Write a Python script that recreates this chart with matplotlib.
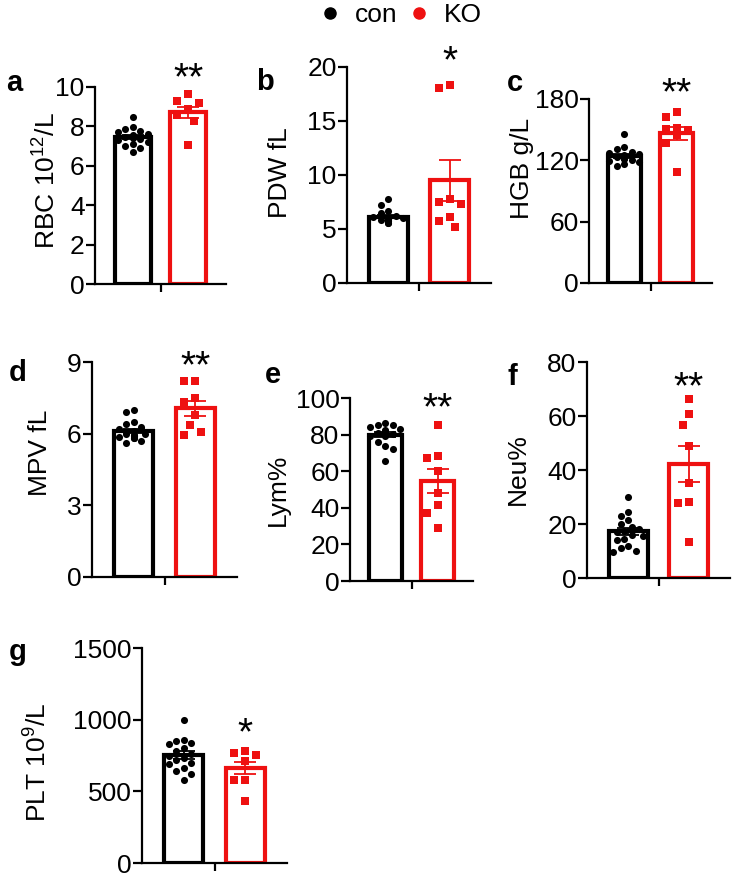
import numpy as np
import matplotlib
matplotlib.use("Agg")
import matplotlib.pyplot as plt
from matplotlib.lines import Line2D

plt.rcParams['font.family'] = ['Liberation Sans', 'DejaVu Sans']
plt.rcParams['mathtext.fontset'] = 'custom'
plt.rcParams['mathtext.rm'] = 'Liberation Sans'
plt.rcParams['mathtext.it'] = 'Liberation Sans'

groups = ["con", "KO"]
RED = "#EE1111"

# ---- data ----
rbc_con = [8.48, 7.95, 7.85, 7.75, 7.7, 7.6, 7.55, 7.5, 7.45, 7.4, 7.35, 7.3, 7.2, 7.1, 7.0, 6.9, 6.7]
rbc_ko = [9.66, 9.27, 9.19, 8.90, 8.82, 8.56, 8.28, 7.04]

pdw_con = [7.8, 7.2, 6.7, 6.5, 6.2, 6.1, 6.0, 6.0, 5.9, 5.9, 5.8, 5.8, 5.7, 5.7, 5.6, 5.6]
pdw_ko = [18.3, 18.1, 7.5, 7.3, 7.75, 6.1, 5.7, 5.2]

hgb_con = [146, 133, 131, 128, 127, 126, 125, 124, 123, 122, 122, 121, 120, 119, 118, 116, 114]
hgb_ko = [167, 162, 152, 151, 150, 145, 137, 109]

mpv_con = [7.0, 6.9, 6.5, 6.4, 6.3, 6.2, 6.1, 6.0, 6.0, 5.95, 5.9, 5.9, 5.85, 5.8, 5.8, 5.7, 5.6]
mpv_ko = [8.22, 8.22, 7.49, 7.31, 6.8, 6.38, 6.06, 5.96]

lym_con = [86.5, 85.5, 85, 84, 83, 82.5, 82, 81.5, 81, 80.5, 80, 79.5, 79, 76, 74, 72, 65.7]
lym_ko = [85.4, 68.4, 67.2, 59.9, 48.0, 41.6, 37.0, 28.8]

neu_con = [30, 24.5, 23, 21.5, 20, 19, 18, 17.5, 17, 16, 15.5, 14.5, 14, 12, 11, 10, 9.5]
neu_ko = [66.3, 60.7, 56.7, 48.9, 35.3, 28.1, 27.6, 13.4]

plt_con = [1000, 860, 850, 840, 830, 800, 780, 760, 750, 730, 720, 700, 690, 660, 640, 620, 580]
plt_ko = [784, 751, 767, 709, 709, 581, 577, 430]

ylabels = ["RBC 10$^{12}$/L", "PDW fL", "HGB g/L", "MPV fL", "Lym%", "Neu%", "PLT 10$^{9}$/L"]
letters = ["a", "b", "c", "d", "e", "f", "g"]
yticks = [[0, 2, 4, 6, 8, 10], [0, 5, 10, 15, 20], [0, 60, 120, 180], [0, 3, 6, 9],
          [0, 20, 40, 60, 80, 100], [0, 20, 40, 60, 80], [0, 500, 1000, 1500]]
stars = ["**", "*", "**", "**", "**", "**", "*"]
datasets = [(rbc_con, rbc_ko), (pdw_con, pdw_ko), (hgb_con, hgb_ko), (mpv_con, mpv_ko),
            (lym_con, lym_ko), (neu_con, neu_ko), (plt_con, plt_ko)]

# ---- layout (pixels) ----
W, H = 736, 880
boxes = [(95, 226, 87, 284), (347, 491, 67, 283), (589, 712, 99, 283),
         (92, 237, 362, 577), (350, 473, 398, 581), (587, 730, 362, 578),
         (142, 287, 648, 863)]
ylab_pos = [(47, 181), (280, 173), (522, 168), (40, 453), (278, 490), (518, 469), (38, 762)]
letter_pos = [(14, 83), (265, 82), (515, 83), (18, 373), (273, 375), (512, 377), (18, 652)]
star_y = [73, 56, 88, 361, 403, 382, 728]

fig = plt.figure(figsize=(W / 100, H / 100), dpi=100)


def swarm(ax, x0, vals, dpx, maxhalf):
    pts = ax.transData.transform([(x0, v) for v in vals])
    ux = ax.transData.transform((1, 0))[0] - ax.transData.transform((0, 0))[0]
    order = np.argsort(vals)[::-1]
    placed = []
    offs = np.zeros(len(vals))
    for i in order:
        y = pts[i, 1]
        best = None
        for k in range(0, 40):
            for s in ([0] if k == 0 else [-1, 1]):
                cx = s * k * dpx * 0.5
                if abs(cx) > maxhalf:
                    continue
                ok = all((cx - px) ** 2 + (y - py) ** 2 >= dpx ** 2 for px, py in placed)
                if ok:
                    best = cx
                    break
            if best is not None:
                break
        if best is None:
            best = 0.0
        placed.append((best, y))
        offs[i] = best / ux
    return x0 + offs


for i in range(7):
    l, r, t, b = boxes[i]
    ax = fig.add_axes([l / W, 1 - b / H, (r - l) / W, (b - t) / H])
    con, ko = datasets[i]
    ax.set_xlim(-0.68, 1.68)
    ax.set_ylim(0, yticks[i][-1])
    for j, (vals, col) in enumerate([(con, "black"), (ko, RED)]):
        v = np.array(vals, dtype=float)
        m = v.mean()
        ax.bar(j, m, width=0.64, facecolor="white", edgecolor=col, linewidth=3.0, zorder=2)
    fig.canvas.draw()
    for j, (vals, col, mk, sz, dp) in enumerate([(con, "black", "o", 26, 7.5),
                                                  (ko, RED, "s", 30, 11)]):
        v = np.array(vals, dtype=float)
        xs = swarm(ax, j, v, dp, 18)
        ax.scatter(xs, v, marker=mk, s=sz, color=col, linewidths=0, zorder=3, clip_on=False)
    for j, (vals, col) in enumerate([(con, "black"), (ko, RED)]):
        v = np.array(vals, dtype=float)
        m = v.mean()
        sem = v.std(ddof=1) / np.sqrt(len(v))
        ax.errorbar(j, m, yerr=sem, color=col, capsize=8, elinewidth=1.3, capthick=1.3,
                    fmt="none", zorder=4)
    for s in ["top", "right"]:
        ax.spines[s].set_visible(False)
    for s in ["left", "bottom"]:
        ax.spines[s].set_linewidth(1.6)
    ax.set_yticks(yticks[i])
    ax.set_yticklabels([str(t) for t in yticks[i]], fontsize=19)
    ax.set_xticks([0.5])
    ax.set_xticklabels([""])
    ax.tick_params(axis="y", length=6.5, width=1.6, pad=1)
    ax.tick_params(axis="x", length=6, width=1.6)
    ax.set_ylabel(ylabels[i], fontsize=19)
    lx, ly = ylab_pos[i]
    ax.yaxis.set_label_coords(lx / W, 1 - ly / H, transform=fig.transFigure)
    ax.yaxis.label.set_va("center")
    fig.text(letter_pos[i][0] / W, 1 - letter_pos[i][1] / H, letters[i], fontsize=21,
             fontweight="bold", ha="center", va="center")
    sx = ax.transData.transform((1, 0))[0]
    fig.text(sx / W, 1 - (star_y[i] + 6) / H, stars[i], fontsize=28, ha="center", va="center")

handles = [Line2D([], [], marker="o", color="black", linestyle="none", markersize=8),
           Line2D([], [], marker="o", color=RED, linestyle="none", markersize=8)]
fig.legend(handles, groups, loc="center", bbox_to_anchor=(398 / W, 1 - 15 / H), ncol=2,
           frameon=False, fontsize=19, handletextpad=0.35, columnspacing=0.2, handlelength=1.2)

fig.savefig("out.png", dpi=100)
